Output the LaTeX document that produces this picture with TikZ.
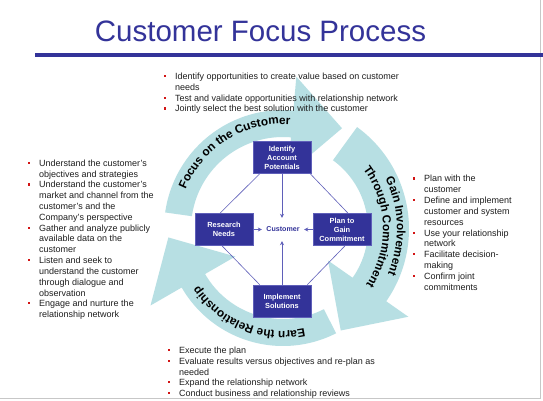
\documentclass[tikz,border=0pt]{standalone}
\usepackage{fontspec}
\setmainfont{Liberation Sans}
\usetikzlibrary{calc,decorations.text,arrows.meta}
\definecolor{navy}{RGB}{51,51,153}
\definecolor{band}{RGB}{183,223,227}
\definecolor{connc}{RGB}{95,95,185}
\definecolor{bul}{RGB}{210,20,20}
\definecolor{txt}{RGB}{30,30,30}
\newcommand\bandfont{\fontsize{11.8}{12}\selectfont\bfseries}
% cx cy tail base rin rout barbin barbout headlength
\newcommand\circarrow[9]{%
  \pgfmathsetmacro\rmid{(#5+#6)/2}%
  \pgfmathsetmacro\tipx{#1+\rmid*cos(#4)+#9*cos(#4+90)}%
  \pgfmathsetmacro\tipy{#2+\rmid*sin(#4)+#9*sin(#4+90)}%
  \fill[band] plot[domain=#3:#4,samples=70] ({#1+#6*cos(\x)},{#2+#6*sin(\x)})
    -- ({#1+#8*cos(#4)},{#2+#8*sin(#4)}) -- (\tipx,\tipy)
    -- ({#1+#7*cos(#4)},{#2+#7*sin(#4)}) -- ({#1+#5*cos(#4)},{#2+#5*sin(#4)})
    -- plot[domain=#4:#3,samples=70] ({#1+#5*cos(\x)},{#2+#5*sin(\x)}) -- cycle;}
% name x baseline text
\newcommand\bitem[4]{%
  \node[itemtxt, anchor=north west] (#1) at (#2,#3-7) {\rule{0pt}{7pt}#4};
  \fill[bul] (#2-11.1,#3-4.3) rectangle ++(2.2,2.2);}
\begin{document}
\begin{tikzpicture}[x=1pt,y=-1pt,
  box/.style={fill=navy, draw=connc, line width=0.6pt, minimum width=58, minimum height=32,
    inner sep=0, text=white, align=center, font=\fontsize{7.4}{9}\selectfont\bfseries},
  itemtxt/.style={font=\fontsize{9}{10.85}\selectfont, text=txt, align=left, inner sep=0},
  conn/.style={draw=connc, line width=0.6pt},
  tip/.style={-{Stealth[length=4pt,width=4pt]}}]
\useasboundingbox (0,0) rectangle (543,400);
\fill[white] (0,0) rectangle (543,400);
\draw[black!22, line width=1.2pt] (540.5,0) -- (540.5,398.5) -- (0,398.5);
% title
\node[font=\fontsize{29.5}{32}\selectfont, text=navy, anchor=base, inner sep=0] (title) at (260.5,41.7) {Customer Focus Process};
\draw[navy, line width=4pt] (35,55.3) -- (543,55.3);
% circular arrows
\circarrow{283}{229}{188}{275}{92}{119}{55}{153}{50}
\circarrow{283}{229}{306}{395}{85}{126}{55}{153}{50}
\circarrow{283}{229}{63}{150}{90}{117}{55}{153}{50}
% band texts
\path[navy, decorate, decoration={text along path, text align=center, text={|\bandfont|Focus on the Customer}}]
  plot[domain=188:288, samples=120] ({283+105*cos(\x)},{229+105*sin(\x)});
\path[navy, decorate, decoration={text along path, text align=center, text={|\bandfont|Gain Involvement}}]
  plot[domain=-51:48, samples=120] ({283+114*cos(\x)},{229+114*sin(\x)});
\path[navy, decorate, decoration={text along path, text align=center, text={|\bandfont|Through Commitment}}]
  plot[domain=-51:48, samples=120] ({283+100*cos(\x)},{229+100*sin(\x)});
\path[navy, decorate, decoration={text along path, text align=center, text={|\bandfont|Earn the Relationship}}]
  plot[domain=62:162, samples=120] ({283+102*cos(\x)},{229+102*sin(\x)});
% boxes
\node[box] (ident) at (282,157.5) {Identify\\Account\\Potentials};
\node[box] (research) at (224,229.5) {Research\\Needs};
\node[box] (plan) at (342,229.5) {Plan to\\Gain\\Commitment};
\node[box] (impl) at (282,301) {Implement\\Solutions};
\node[font=\fontsize{7.1}{8}\selectfont\bfseries, text=navy, minimum width=42, minimum height=23, inner sep=0] (cust) at (283,229.5) {Customer};
% connectors
\draw[conn] ($(ident.south west)+(7,0)$) -- ($(research.north)+(-4,0)$);
\draw[conn] ($(ident.south east)+(-1,0)$) -- ($(plan.north)+(6,0)$);
\draw[conn] ($(research.south)+(-2,0)$) -- ($(impl.north west)+(7,0)$);
\draw[conn] ($(plan.south)+(3,0)$) -- ($(impl.north east)+(-4,0)$);
\draw[conn, tip] (ident.south) -- (cust.north -| ident.south);
\draw[conn, tip] (research.east) -- (cust.west);
\draw[conn, tip] (plan.west) -- (cust.east);
\draw[conn, tip] (impl.north) -- (cust.south -| impl.north);
% top block
\bitem{t1}{175}{79}{Identify opportunities to create value based on customer\\needs}
\bitem{t2}{175}{100.8}{Test and validate opportunities with relationship network}
\bitem{t3}{175}{111.7}{Jointly select the best solution with the customer}
% left block
\bitem{l1}{39}{166}{Understand the customer’s\\objectives and strategies}
\bitem{l2}{39}{187.6}{Understand the customer’s\\market and channel from the\\customer’s and the\\Company’s perspective}
\bitem{l3}{39}{230.9}{Gather and analyze publicly\\available data on the\\customer}
\bitem{l4}{39}{263.3}{Listen and seek to\\understand the customer\\through dialogue and\\observation}
\bitem{l5}{39}{306.5}{Engage and nurture the\\relationship network}
% right block
\bitem{r1}{424}{181.6}{Plan with the\\customer}
\bitem{r2}{424}{203.3}{Define and implement\\customer and system\\resources}
\bitem{r3}{424}{235.8}{Use your relationship\\network}
\bitem{r4}{424}{257.5}{Facilitate decision-\\making}
\bitem{r5}{424}{279.2}{Confirm joint\\commitments}
% bottom block
\bitem{b1}{179}{353.3}{Execute the plan}
\bitem{b2}{179}{364}{Evaluate results versus objectives and re-plan as\\needed}
\bitem{b3}{179}{385.4}{Expand the relationship network}
\bitem{b4}{179}{396.1}{Conduct business and relationship reviews}
\end{tikzpicture}
\end{document}
